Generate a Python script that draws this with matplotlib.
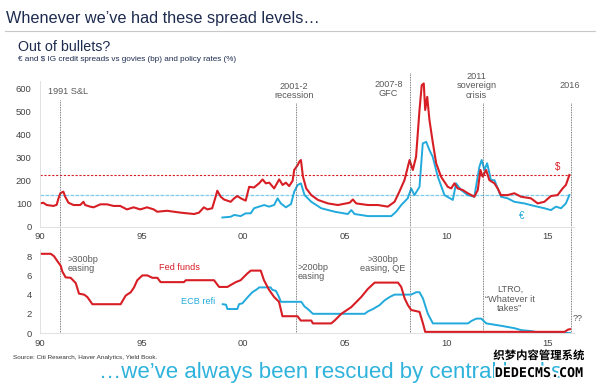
import matplotlib
matplotlib.use("Agg")
import matplotlib.pyplot as plt
import matplotlib.patheffects as pe

plt.rcParams['font.family'] = ['Liberation Sans', 'DejaVu Sans']

# ##################################################
# data
# ##################################################

us_years = [1990.0, 1990.16, 1990.33, 1990.66, 1990.82, 1990.91, 1991.0, 1991.15, 1991.24, 1991.4,
            1991.65, 1991.98, 1992.14, 1992.22, 1992.47, 1992.64, 1992.97, 1993.3, 1993.62, 1993.95,
            1994.28, 1994.61, 1994.94, 1995.27, 1995.6, 1995.77, 1996.26, 1996.59, 1996.92, 1997.25,
            1997.58, 1997.83, 1998.07, 1998.24, 1998.48, 1998.65, 1998.73, 1998.9, 1999.06, 1999.39,
            1999.56, 1999.72, 1999.89, 2000.13, 2000.3, 2000.54, 2000.79, 2000.96, 2001.12, 2001.29,
            2001.53, 2001.78, 2001.95, 2002.11, 2002.27, 2002.44, 2002.52, 2002.69, 2002.77, 2002.85,
            2002.95, 2003.11, 2003.36, 2003.69, 2004.18, 2004.67, 2005.25, 2005.41, 2005.57, 2006.15,
            2006.64, 2007.13, 2007.46, 2007.7, 2007.95, 2008.2, 2008.36, 2008.52, 2008.69, 2008.8,
            2008.9, 2008.97, 2009.07, 2009.18, 2009.34, 2009.51, 2009.75, 2010.08, 2010.25, 2010.41,
            2010.57, 2010.82, 2011.07, 2011.39, 2011.56, 2011.69, 2011.8, 2011.97, 2012.13, 2012.38,
            2012.54, 2012.7, 2013.03, 2013.36, 2013.69, 2014.18, 2014.51, 2014.84, 2015.16, 2015.49,
            2015.74, 2015.9, 2016.07]
us_spread = [101, 104, 94, 90, 95, 123, 145, 152, 130, 104,
             94, 94, 108, 94, 87, 84, 97, 97, 90, 90,
             75, 84, 75, 84, 75, 65, 69, 65, 61, 58,
             55, 61, 84, 75, 80, 130, 156, 130, 118, 108,
             123, 133, 123, 113, 173, 170, 188, 205, 188, 191,
             166, 205, 181, 191, 176, 199, 246, 267, 282, 289,
             217, 166, 137, 116, 101, 94, 104, 118, 101, 94,
             94, 87, 108, 152, 202, 289, 246, 303, 506, 614,
             621, 506, 563, 462, 368, 275, 217, 173, 166, 188,
             166, 159, 145, 130, 159, 246, 217, 246, 202, 188,
             166, 137, 137, 145, 130, 123, 101, 108, 133, 137,
             166, 181, 224]

eur_years = [1998.98, 1999.39, 1999.56, 1999.88, 2000.13, 2000.38, 2000.54, 2000.79, 2001.04, 2001.28,
             2001.53, 2001.7, 2001.86, 2002.11, 2002.36, 2002.52, 2002.69, 2002.85, 2003.03, 2003.36,
             2003.85, 2004.51, 2005.16, 2005.33, 2005.49, 2006.15, 2006.8, 2007.3, 2007.54, 2007.79,
             2008.11, 2008.28, 2008.44, 2008.69, 2008.85, 2009.02, 2009.18, 2009.34, 2009.59, 2009.92,
             2010.33, 2010.49, 2010.74, 2011.07, 2011.39, 2011.64, 2011.75, 2011.89, 2012.02, 2012.21,
             2012.38, 2012.7, 2013.03, 2013.36, 2013.85, 2014.34, 2014.84, 2015.16, 2015.41, 2015.66,
             2015.9, 2016.07]
eur_spread = [40, 43, 51, 46, 58, 58, 80, 87, 94, 87,
              94, 123, 101, 84, 98, 152, 181, 188, 137, 108,
              80, 65, 55, 72, 55, 46, 46, 46, 65, 94,
              123, 166, 137, 173, 361, 368, 332, 303, 217, 137,
              116, 188, 159, 137, 130, 260, 289, 246, 275, 202,
              202, 130, 123, 108, 101, 90, 80, 72, 87, 80,
              101, 137]

fed_years = [1990.0, 1990.53, 1990.69, 1990.85, 1991.02, 1991.1, 1991.26, 1991.51, 1991.76, 1991.92,
             1992.17, 1992.33, 1992.58, 1993.97, 1994.22, 1994.47, 1994.63, 1994.79, 1995.04, 1995.29,
             1995.53, 1995.78, 1995.94, 1997.09, 1997.18, 1998.57, 1998.82, 1999.23, 1999.39, 1999.64,
             1999.88, 2000.21, 2000.38, 2000.87, 2001.03, 2001.28, 2001.53, 2001.77, 2001.94, 2002.68,
             2002.84, 2003.36, 2003.44, 2004.34, 2004.51, 2004.84, 2005.33, 2005.82, 2006.15, 2006.48,
             2007.63, 2007.79, 2007.96, 2008.12, 2008.28, 2008.69, 2008.86, 2008.97, 2015.84, 2016.0,
             2016.1]
fed_rate = [8.25, 8.25, 8.0, 7.5, 7.0, 6.4, 5.8, 5.75, 5.2, 4.1,
            4.0, 3.75, 3.0, 3.0, 3.9, 4.25, 4.75, 5.5, 6.0, 6.0,
            5.75, 5.75, 5.3, 5.3, 5.5, 5.5, 4.8, 4.8, 5.0, 5.3,
            5.5, 6.2, 6.5, 6.5, 5.5, 4.5, 3.75, 3.25, 1.75, 1.75,
            1.3, 1.3, 1.0, 1.0, 1.3, 2.0, 2.7, 3.75, 4.6, 5.25,
            5.25, 4.8, 3.6, 2.9, 2.4, 2.2, 1.0, 0.12, 0.12, 0.35,
            0.4]

ecb_years = [1999.0, 1999.16, 1999.23, 1999.72, 1999.8, 1999.97, 2000.13, 2000.3, 2000.46, 2000.71,
             2000.79, 2001.36, 2001.44, 2001.61, 2001.69, 2001.77, 2001.86, 2002.87, 2003.03, 2003.19,
             2003.44, 2005.99, 2006.15, 2006.4, 2006.72, 2006.97, 2007.22, 2007.46, 2008.28, 2008.53,
             2008.69, 2008.86, 2009.1, 2009.35, 2011.08, 2011.24, 2011.49, 2011.73, 2011.98, 2012.72,
             2013.37, 2013.7, 2014.2, 2014.52, 2016.1]
ecb_rate = [3.0, 2.95, 2.5, 2.5, 3.0, 3.1, 3.5, 3.9, 4.25, 4.6,
            4.75, 4.75, 4.5, 4.4, 4.1, 3.75, 3.25, 3.25, 2.75, 2.5,
            2.0, 2.0, 2.25, 2.5, 2.9, 3.4, 3.75, 4.0, 4.0, 4.25,
            4.25, 3.6, 2.0, 1.0, 1.0, 1.25, 1.5, 1.5, 1.0, 0.75,
            0.5, 0.3, 0.2, 0.07, 0.0]

us_now = 224
eur_now = 138

# crisis markers (year) and how far up the top panel each dotted line reaches
events = [1991.0, 2002.6, 2008.2, 2011.8, 2016.15]
event_tops = [0.872, 0.851, 1.058, 0.851, 0.851]

xticks = [1990, 1995, 2000, 2005, 2010, 2015]
xlabels = ['90', '95', '00', '05', '10', '15']

RED = '#d81e25'
BLUE = '#22aadc'
NAVY = '#1d2b4f'
GREY = '#5a5a5a'

# ##################################################
# figure layout
# ##################################################

fig = plt.figure(figsize=(6, 3.87), dpi=100)
ax1 = fig.add_axes([0.0667, 0.4142, 0.89, 0.3755])
ax2 = fig.add_axes([0.0667, 0.1395, 0.89, 0.2183])

fig.text(0.01, 0.952, 'Whenever we\u2019ve had these spread levels\u2026', fontsize=11.7,
         color=NAVY, va='center')
fig.add_artist(plt.Line2D([0.008, 0.992], [0.92, 0.92], color='#c8c8c8', lw=0.8))
fig.text(0.03, 0.878, 'Out of bullets?', fontsize=10.3, color=NAVY, va='center')
fig.text(0.03, 0.845, '\u20ac and $ IG credit spreads vs govies (bp) and policy rates (%)',
         fontsize=5.9, color=NAVY, va='center')

for ax in (ax1, ax2):
    ax.set_xlim(1990, 2016.3)
    ax.set_xticks(xticks)
    ax.set_xticklabels(xlabels)
    for s in ('top', 'right'):
        ax.spines[s].set_visible(False)
    for s in ('left', 'bottom'):
        ax.spines[s].set_color('#dcdcdc')
        ax.spines[s].set_linewidth(0.6)
    ax.tick_params(length=0, labelsize=6.8, colors='#444444', pad=4)
    ax.tick_params(axis='y', pad=6)
    ax.patch.set_alpha(0)

# ##################################################
# top panel: spreads
# ##################################################

ax1.set_ylim(0, 630)
ax1.set_yticks(range(0, 601, 100))
ax1.axhline(us_now, xmax=(2016.1 - 1990) / 26.3, color=RED, lw=0.8, ls=(0, (2, 1.5)))
ax1.axhline(eur_now, xmax=(2016.1 - 1990) / 26.3, color='#7fcbea', lw=0.9, ls=(0, (3, 1)))
ax1.plot(eur_years, eur_spread, color=BLUE, lw=1.4)
ax1.plot(us_years, us_spread, color=RED, lw=1.5)

for x, top in zip(events, event_tops):
    ax1.axvline(x, ymin=-0.15, ymax=top, color='#555555', lw=0.6, ls=(0, (1, 1)), clip_on=False)
    ax2.axvline(x, ymin=0, ymax=1, color='#555555', lw=0.6, ls=(0, (1, 1)))

ax1.text(1990.38, 584, '1991 S&L', fontsize=6.6, color=GREY, va='center')
ax1.text(2002.5, 588, '2001-2\nrecession', fontsize=6.6, color=GREY, va='center', ha='center',
         linespacing=1.1)
ax1.text(2007.86, 597, '2007-8\nGFC', fontsize=6.6, color=GREY, va='center', ha='right',
         linespacing=1.1, multialignment='center')
ax1.text(2011.5, 610, '2011\nsovereign\ncrisis', fontsize=6.6, color=GREY, va='center',
         ha='center', linespacing=1.1)
ax1.text(2016.1, 610, '2016', fontsize=6.6, color=GREY, va='center', ha='center')
ax1.text(2015.5, 259, '$', fontsize=7, color=RED, va='center', ha='center')
ax1.text(2013.73, 46, '\u20ac', fontsize=7, color=BLUE, va='center', ha='center')

# ##################################################
# bottom panel: policy rates
# ##################################################

ax2.set_ylim(0, 8.8)
ax2.set_yticks(range(0, 9, 2))
ax2.plot(ecb_years, ecb_rate, color=BLUE, lw=1.4)
ax2.plot(fed_years, fed_rate, color=RED, lw=1.5)

ax2.text(1991.36, 7.2, '>300bp\neasing', fontsize=6.6, color=GREY, va='center', linespacing=1.1)
ax2.text(1995.84, 6.8, 'Fed funds', fontsize=6.6, color=RED, va='center')
ax2.text(1996.93, 3.33, 'ECB refi', fontsize=6.6, color=BLUE, va='center')
ax2.text(2002.69, 6.35, '>200bp\neasing', fontsize=6.6, color=GREY, va='center', linespacing=1.1)
ax2.text(2006.87, 7.2, '>300bp\neasing, QE', fontsize=6.6, color=GREY, va='center', ha='center',
         linespacing=1.1)
ax2.text(2013.14, 3.54, 'LTRO,\n\u201cWhatever it\ntakes\u201d', fontsize=6.6, color=GREY,
         va='center', ha='center', linespacing=1.1)
ax2.text(2016.5, 1.56, '??', fontsize=6.6, color=GREY, va='center', ha='center')

fig.text(0.022, 0.077, 'Source: Citi Research, Haver Analytics, Yield Book.', fontsize=4.55,
         color='#333333', va='center')
fig.text(0.165, 0.038, '\u2026we\u2019ve always been rescued by central banks', fontsize=16,
         color='#2fb3dc', va='center')

# site watermark (sits over the end of the footer line, as in the source image)
wm = [pe.withStroke(linewidth=2.5, foreground='white')]
fig.text(0.898, 0.081, '织梦内容管理系统', fontsize=8.2, fontweight='bold', color='black',
         family=['Noto Sans CJK SC', 'DejaVu Sans'], ha='center', va='center', path_effects=wm)
fig.text(0.898, 0.035, 'DEDECMS.COM', fontsize=9.6, fontweight='bold', color='black',
         family=['DejaVu Sans Mono', 'DejaVu Sans'], ha='center', va='center', path_effects=wm)

fig.savefig('out.png', dpi=100)
